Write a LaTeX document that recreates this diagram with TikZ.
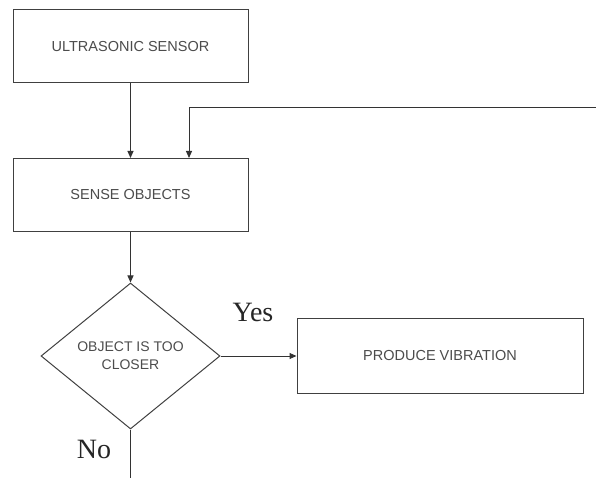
\documentclass[tikz,border=0pt]{standalone}
\usepackage{fontspec}
\setmainfont{Liberation Serif}
\setsansfont{Liberation Sans}
\usetikzlibrary{shapes.geometric,arrows.meta}

\tikzset{
    block/.style = {draw=black!75, line width=1pt, fill=white, inner sep=0pt,
        minimum width=235pt, minimum height=73pt,
        font=\sffamily\fontsize{14.5}{17}\selectfont, text=black!70},
    decide/.style = {diamond, draw=black!75, line width=1pt, inner sep=0pt, aspect=1.23,
        minimum width=179pt, minimum height=146pt, align=center,
        font=\sffamily\fontsize{14}{18}\selectfont, text=black!70},
    link/.style = {draw=black!80, line width=1pt, -{Triangle[length=7pt,width=6pt]}},
    answer/.style = {font=\fontsize{28}{30}\selectfont, text=black!85}
}

\begin{document}
\begin{tikzpicture}[x = 1pt, y = -1pt]
        \useasboundingbox (0,0) rectangle (596,478);
        % blocks
        \node [block] (sensor) at (130.5,46.5) {ULTRASONIC SENSOR};
        \node [block] (sense) at (130.5,195) {SENSE OBJECTS};
        \node [decide] (close) at (130.5,356) {OBJECT IS TOO\\CLOSER};
        \node [block, minimum width=286pt, minimum height=75pt] (vibrate) at (440,356) {PRODUCE VIBRATION};
        \node [answer] (yes) at (253,312) {Yes};
        \node [answer] (no) at (94,449) {No};
        % connectors
        \coordinate (back) at (596,108);
        \coordinate (turn) at (189,108);
        \coordinate (out) at (130.5,478);
        \draw [link] (sensor) -- (sense);
        \draw [link] (back) -- (turn) -- (turn |- sense.north);
        \draw [link] (sense) -- (close);
        \draw [link] (close.east) -- (vibrate.west);
        \draw [draw=black!80, line width=1pt] (close.south) -- (out);
    \end{tikzpicture}
\end{document}
